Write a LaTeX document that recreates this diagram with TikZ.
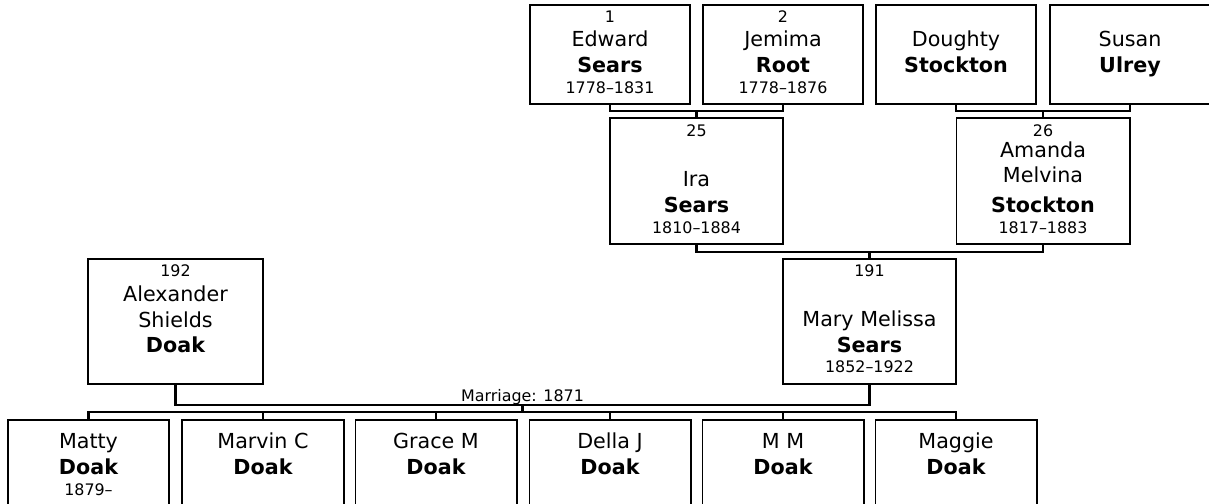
\documentclass[tikz,border=0pt]{standalone}
\usepackage{fontspec}
\setmainfont{DejaVu Sans}
\usetikzlibrary{calc,positioning}
\newcommand{\famnamesize}{\fontsize{14.7}{17}\selectfont}
\newcommand{\famsmallsize}{\fontsize{11.3}{13}\selectfont}
\tikzset{
 fam card/.style={draw=black,line width=1.4pt,inner sep=0pt,outer sep=0pt,
                  minimum width=4cm,minimum height=2.475cm},
 fam wide/.style={fam card,minimum width=4.325cm,minimum height=3.15cm},
 fam kid/.style={fam card,minimum width=4.025cm,minimum height=2.15cm},
 fam link/.style={line width=1.45pt},
 fam num/.style={font=\famsmallsize,anchor=base,inner sep=0pt},
 fam given/.style={font=\famnamesize,anchor=base,inner sep=0pt},
 fam sur/.style={font=\famnamesize\bfseries,anchor=base,inner sep=0pt},
 fam dates/.style={font=\famsmallsize,anchor=base,inner sep=0pt}
}
\begin{document}
\begin{tikzpicture}[x=0.025cm,y=-0.025cm]
 \clip (0,0) rectangle (1209,504);
 % grandparents
 \node[fam card] (edward) at (610,54.5) {};
 \node[fam card] (jemima) at (783,54.5) {};
 \node[fam card] (doughty) at (956,54.5) {};
 \node[fam card] (susan) at (1130,54.5) {};
 % parents
 \node[fam wide] (ira) at (696.5,181) {};
 \node[fam wide] (amanda) at (1043,181) {};
 \node[fam wide,minimum width=4.375cm,minimum height=3.125cm] (alexander) at (175.5,321.5) {};
 \node[fam wide,minimum height=3.125cm] (mary) at (869.5,321.5) {};
 % children
 \foreach \c/\x in {matty/88.5,marvin/263,grace/436,della/610,mm/783,maggie/956}
   \node[fam kid] (\c) at (\x,463) {};

 \node[fam num] at (610,22.7) {1};
 \node[fam num] at (783,22.7) {2};
 \foreach \x/\g/\s in {610/Edward/Sears,783/Jemima/Root,956/Doughty/Stockton,1130/Susan/Ulrey}{
   \node[fam given] at (\x,46.7) {\g};
   \node[fam sur] at (\x,72.7) {\s};
 }
 \node[fam dates] at (610,93.3) {1778--1831};
 \node[fam dates] at (783,93.3) {1778--1876};

 \node[fam num] at (696.5,136.7) {25};
 \node[fam given] at (696.5,186.5) {Ira};
 \node[fam sur] at (696.5,212.7) {Sears};
 \node[fam dates] at (696.5,233.3) {1810--1884};
 \node[fam num] at (1043,136.7) {26};
 \node[fam given] at (1043,158) {Amanda};
 \node[fam given] at (1043,183) {Melvina};
 \node[fam sur] at (1043,212.7) {Stockton};
 \node[fam dates] at (1043,233.3) {1817--1883};

 \node[fam num] at (175.5,276.5) {192};
 \node[fam given] at (175.5,301.7) {Alexander};
 \node[fam given] at (175.5,327) {Shields};
 \node[fam sur] at (175.5,352.3) {Doak};
 \node[fam num] at (869.5,276.5) {191};
 \node[fam given] at (869.5,326.3) {Mary Melissa};
 \node[fam sur] at (869.5,352.3) {Sears};
 \node[fam dates] at (869.5,372.7) {1852--1922};

 \foreach \x/\g in {88.5/Matty,263/Marvin C,436/Grace M,610/Della J,783/M M,956/Maggie}{
   \node[fam given] at (\x,448.3) {\g};
   \node[fam sur] at (\x,474.3) {Doak};
 }
 \node[fam dates] at (88.5,495) {1879--};

 \draw[fam link] (edward.south) -- ++(0,7) -| (jemima.south);
 \draw[fam link] (ira.north) -- ++(0,-7);
 \draw[fam link] (doughty.south) -- ++(0,7) -| (susan.south);
 \draw[fam link] (amanda.north) -- ++(0,-7);
 \draw[fam link] (ira.south) -- ++(0,8) -| (amanda.south);
 \draw[fam link] (mary.north) -- ++(0,-7);
 \draw[fam link] (alexander.south) -- ++(0,21)
   -| node[fam num,pos=.25,yshift=.1cm] {Marriage: 1871} (mary.south);
 \draw[fam link] ($(alexander.south)!.5!(mary.south)+(0,21)$) -- ++(0,7);
 \draw[fam link] (matty.north) -- ++(0,-8) -| (maggie.north);
 \foreach \c in {marvin,grace,della,mm} \draw[fam link] (\c.north) -- ++(0,-8);
\end{tikzpicture}
\end{document}
